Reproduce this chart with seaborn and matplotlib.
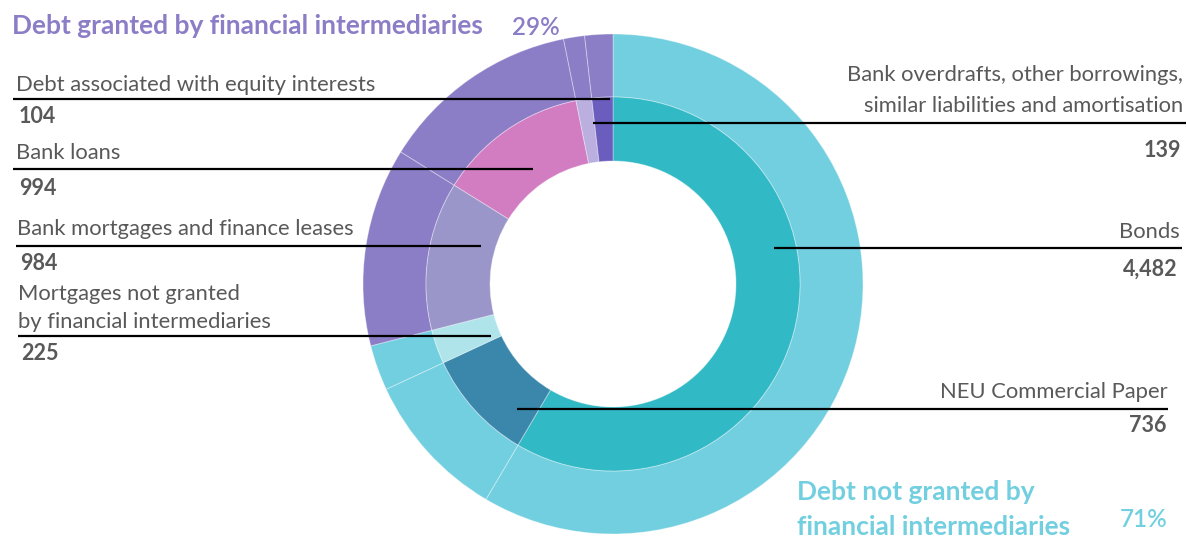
import matplotlib
matplotlib.use("Agg")
import matplotlib.pyplot as plt
import seaborn as sns

# data
categories = [
    "Bonds",
    "NEU Commercial Paper",
    "Mortgages not granted\nby financial intermediaries",
    "Bank mortgages and finance leases",
    "Bank loans",
    "Debt associated with equity interests",
    "Bank overdrafts, other borrowings,\nsimilar liabilities and amortisation",
]
values = [4482, 736, 225, 984, 994, 104, 139]
groups = ["not granted", "not granted", "not granted",
          "granted", "granted", "granted", "granted"]
group_titles = {
    "granted": "Debt granted by financial intermediaries",
    "not granted": "Debt not granted by\nfinancial intermediaries",
}

inner_colors = ["#32B9C6", "#3A87AB", "#AEE4EA", "#9A96C9",
                "#D27CC2", "#BBAFE0", "#6B5DBE"]
group_colors = {"not granted": "#72CFE0", "granted": "#8B7DC6"}
label_color = "#595959"

sns.set_theme(style="white")
plt.rcParams["font.family"] = ["Lato", "DejaVu Sans"]

W, H = 1187, 539
fig = plt.figure(figsize=(W / 100, H / 100), dpi=100)
ax = fig.add_axes([0, 0, 1, 1])


def Y(py):
    # pixel row (from top) -> data y
    return H - py


cx, cy = 613, Y(284)
R_out, R_mid, R_in = 250, 187, 123

outer_colors = [group_colors[g] for g in groups]
ax.pie(values, radius=R_out, center=(cx, cy), startangle=90, counterclock=False,
       colors=outer_colors,
       wedgeprops=dict(width=R_out - R_mid, edgecolor=(1, 1, 1, 0.35), linewidth=0.7))
ax.pie(values, radius=R_mid, center=(cx, cy), startangle=90, counterclock=False,
       colors=inner_colors,
       wedgeprops=dict(width=R_mid - R_in, edgecolor=(1, 1, 1, 0.35), linewidth=0.7))
ax.set_xlim(0, W)
ax.set_ylim(0, H)
ax.axis("off")

# label layout: side, text x, text baselines, number baseline, line y, line x0, x1
layout = {
    5: ("left", 16, [91], 123, 99, 13, 610),
    4: ("left", 16, [159], 195, 169, 13, 533),
    3: ("left", 17, [235], 270, 246, 16, 481),
    2: ("left", 18, [300, 328], 360, 336, 18, 491),
    6: ("right", 1183, [81, 112], 157, 123, 593, 1186),
    0: ("right", 1180, [238], 276, 248, 774, 1182),
    1: ("right", 1168, [398], 432, 409, 517, 1168),
}

for i, (side, tx, bases, nb, ly, x0, x1) in layout.items():
    ha = "left" if side == "left" else "right"
    for line, b in zip(categories[i].split("\n"), bases):
        ax.text(tx, Y(b), line, ha=ha, va="baseline", fontsize=15.8, color=label_color)
    nx = tx + 3 if side == "left" else tx - 2
    ax.text(nx, Y(nb), f"{values[i]:,}", ha=ha, va="baseline", fontsize=15.5,
            fontweight="bold", color=label_color)
    ax.plot([x0, x1], [Y(ly), Y(ly)], color="black", lw=1.6, solid_capstyle="butt")

total = sum(values)
share = {g: round(100 * sum(v for v, gg in zip(values, groups) if gg == g) / total)
         for g in group_colors}

ax.text(12, Y(34), group_titles["granted"], ha="left", va="baseline",
        fontsize=19, fontweight="bold", color=group_colors["granted"])
ax.text(512, Y(35), f"{share['granted']}%", ha="left", va="baseline",
        fontsize=17.5, fontweight="semibold", color=group_colors["granted"])

t1, t2 = group_titles["not granted"].split("\n")
ax.text(797, Y(500), t1, ha="left", va="baseline", fontsize=19,
        fontweight="bold", color=group_colors["not granted"])
ax.text(797, Y(535), t2, ha="left", va="baseline", fontsize=19,
        fontweight="bold", color=group_colors["not granted"])
ax.text(1120, Y(527), f"{share['not granted']}%", ha="left", va="baseline",
        fontsize=17.5, fontweight="semibold", color=group_colors["not granted"])

fig.savefig("out.png", dpi=100)
